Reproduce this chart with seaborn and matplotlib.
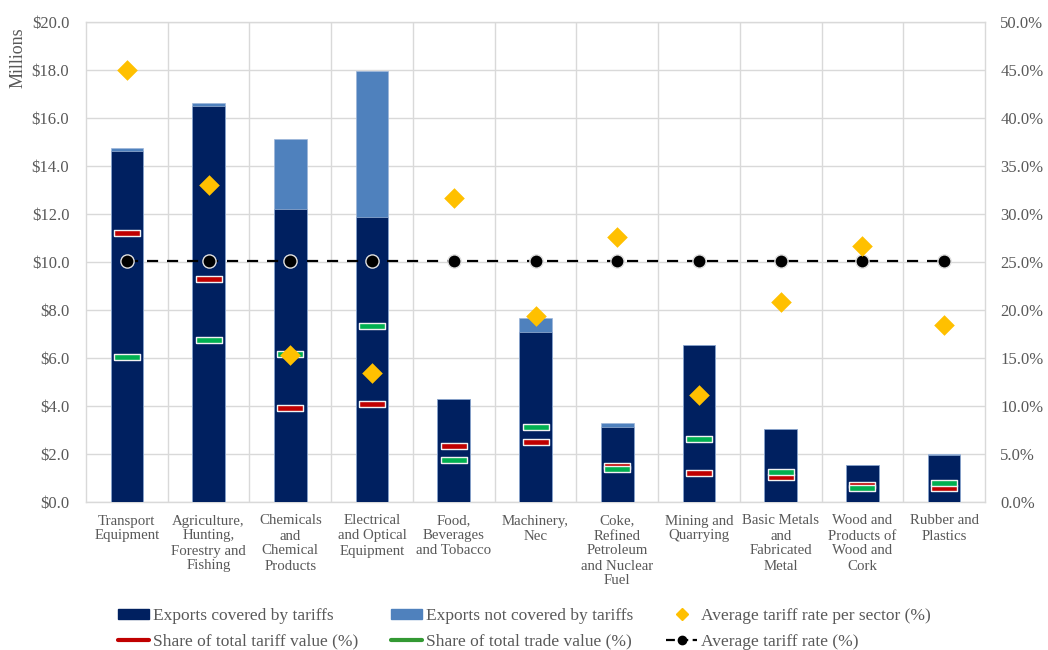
import numpy as np
import pandas as pd
import matplotlib
matplotlib.use("Agg")
import matplotlib.pyplot as plt
from matplotlib.patches import Patch
from matplotlib.lines import Line2D
from matplotlib.ticker import FuncFormatter, FixedLocator
import seaborn as sns

# ---------------- data ----------------
categories = [
    "Transport\nEquipment",
    "Agriculture,\nHunting,\nForestry and\nFishing",
    "Chemicals\nand\nChemical\nProducts",
    "Electrical\nand Optical\nEquipment",
    "Food,\nBeverages\nand Tobacco",
    "Machinery,\nNec",
    "Coke,\nRefined\nPetroleum\nand Nuclear\nFuel",
    "Mining and\nQuarrying",
    "Basic Metals\nand\nFabricated\nMetal",
    "Wood and\nProducts of\nWood and\nCork",
    "Rubber and\nPlastics",
]
covered = [14.63, 16.49, 12.21, 11.86, 4.29, 7.07, 3.14, 6.54, 3.04, 1.54, 1.95]          # $ millions
not_covered = [0.11, 0.12, 2.90, 6.09, 0.02, 0.61, 0.14, 0.0, 0.02, 0.0, 0.06]            # $ millions
avg_rate_sector = [45.0, 33.0, 15.3, 13.4, 31.7, 19.4, 27.6, 11.1, 20.8, 26.7, 18.4]       # %
share_tariff = [28.0, 23.2, 9.8, 10.2, 5.8, 6.3, 3.8, 3.05, 2.6, 1.8, 1.5]                 # %
share_trade = [15.1, 16.9, 15.4, 18.3, 4.4, 7.8, 3.4, 6.6, 3.1, 1.5, 2.0]                  # %
avg_rate = [25.1] * 11                                                                    # %

left_ticks = np.arange(0, 20.1, 2)
right_ticks = np.arange(0, 50.1, 5)

# ---------------- style ----------------
sns.set_theme(style="white")
plt.rcParams["font.family"] = ["Liberation Serif", "DejaVu Serif"]

NAVY = "#002060"
LBLUE = "#4F81BD"
GOLD = "#FFC000"
RED = "#C00000"
GREEN = "#00B050"
LEG_GREEN = "#339933"
GRID = "#D9D9D9"
TXT = "#595959"

pos = np.arange(len(categories))
df = pd.DataFrame({
    "pos": pos,
    "cat": categories,
    "covered": covered,
    "total": np.array(covered) + np.array(not_covered),
    "avg_sector": avg_rate_sector,
    "share_tariff": share_tariff,
    "share_trade": share_trade,
    "avg_rate": avg_rate,
})

fig = plt.figure(figsize=(10.48, 6.5), dpi=100)
ax = fig.add_axes([86 / 1048, 1 - 502 / 650, (985 - 86) / 1048, (502 - 22) / 650])

# stacked bars: total (light) then covered (dark) on top
sns.barplot(data=df, x="cat", y="total", order=categories, color=LBLUE, width=0.40,
            saturation=1, ax=ax, zorder=2, edgecolor="#9DB6DA", linewidth=0.5)
sns.barplot(data=df, x="cat", y="covered", order=categories, color=NAVY, width=0.40,
            saturation=1, ax=ax, zorder=3, edgecolor="#9DB6DA", linewidth=0.5)

ax.set_xlim(-0.5, len(categories) - 0.5)
ax.set_ylim(0, 20)
ax.yaxis.set_major_locator(FixedLocator(left_ticks))
ax.yaxis.set_major_formatter(FuncFormatter(lambda v, p: f"${v:.1f}"))
ax.set_xlabel("")
ax.set_ylabel("")
ax.set_xticks(pos)
ax.set_xticklabels(categories, fontsize=10.7, color=TXT, linespacing=1.2, va="top")
ax.xaxis.set_minor_locator(FixedLocator(np.arange(0.5, len(categories) - 0.5, 1)))
ax.grid(axis="y", which="major", color=GRID, linewidth=1.0, zorder=0)
ax.grid(axis="x", which="minor", color=GRID, linewidth=1.0, zorder=0)
ax.grid(axis="x", which="major", visible=False)
ax.set_axisbelow(True)
ax.tick_params(axis="both", which="both", length=0, colors=TXT)
ax.tick_params(axis="y", labelsize=12, pad=12)
ax.tick_params(axis="x", pad=9)
for s in ax.spines.values():
    s.set_color(GRID)
    s.set_linewidth(1.0)

# secondary axis (percent)
ax2 = ax.twinx()
ax2.set_ylim(0, 50)
ax2.yaxis.set_major_locator(FixedLocator(right_ticks))
ax2.yaxis.set_major_formatter(FuncFormatter(lambda v, p: f"{v:.1f}%"))
ax2.tick_params(axis="y", length=0, colors=TXT, labelsize=12, pad=11)
for s in ax2.spines.values():
    s.set_visible(False)
ax2.grid(False)

# average tariff rate (dashed line with dots)
sns.lineplot(data=df, x="pos", y="avg_rate", ax=ax2, color="black", linewidth=1.6,
             linestyle=(0, (5, 4)), marker="o", markersize=9.5, markerfacecolor="black",
             markeredgecolor="#E0E0E0", markeredgewidth=1.0, zorder=5)

# rectangle marker for share markers
rect = [(-1, -0.22), (1, -0.22), (1, 0.22), (-1, 0.22), (-1, -0.22)]
sns.scatterplot(data=df, x="pos", y="share_tariff", ax=ax2, marker=rect, s=18.5 ** 2,
                color=RED, edgecolor="#F2F2F2", linewidth=1.0, zorder=6)
sns.scatterplot(data=df, x="pos", y="share_trade", ax=ax2, marker=rect, s=18.5 ** 2,
                color=GREEN, edgecolor="#F2F2F2", linewidth=1.0, zorder=6)

# average tariff rate per sector (diamonds)
sns.scatterplot(data=df, x="pos", y="avg_sector", ax=ax2, marker="D", s=10.5 ** 2,
                color=GOLD, edgecolor=GOLD, linewidth=0, zorder=7)

ax2.set_xlim(-0.5, len(categories) - 0.5)
ax2.set_xlabel("")
ax2.set_ylabel("")
ax2.set_xticks(pos)

fig.text(18 / 1048, 1 - 27 / 650, "Millions", rotation=90, ha="center", va="top",
         fontsize=13, color=TXT)

# legend
h_cov = Patch(facecolor=NAVY, edgecolor=NAVY)
h_not = Patch(facecolor=LBLUE, edgecolor=LBLUE)
h_dia = Line2D([], [], linestyle="none", marker="D", markersize=6, color=GOLD)
h_red = Line2D([], [], color=RED, linewidth=3)
h_grn = Line2D([], [], color=LEG_GREEN, linewidth=3)
h_avg = Line2D([], [], color="black", linewidth=1.6, linestyle=(0, (4, 2)), marker="o",
               markersize=6)
handles = [h_cov, h_red, h_not, h_grn, h_dia, h_avg]
labels = ["Exports covered by tariffs", "Share of total tariff value (%)",
          "Exports not covered by tariffs", "Share of total trade value (%)",
          "Average tariff rate per sector (%)", "Average tariff rate (%)"]
fig.legend(handles, labels, ncol=3, loc="upper left", bbox_to_anchor=(118 / 1048, 1 - 608 / 650),
           frameon=False, fontsize=12.5, labelcolor=TXT, handlelength=1.8, handleheight=0.5,
           handletextpad=0.2, columnspacing=1.9, borderpad=0, borderaxespad=0,
           labelspacing=0.55)

fig.savefig("out.png", dpi=100)
